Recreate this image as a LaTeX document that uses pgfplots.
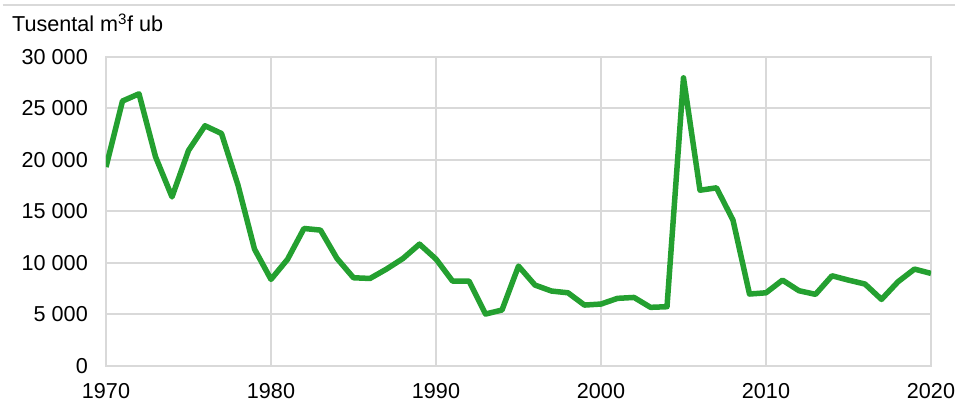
\documentclass[border=0pt]{standalone}
\usepackage{fontspec}
\setmainfont{Liberation Sans}
\usepackage{pgfplots}
\pgfplotsset{compat=1.18}
\definecolor{gridgray}{RGB}{217,217,217}
\definecolor{lgreen}{RGB}{36,160,48}
\begin{document}
\begin{tikzpicture}
\fontsize{21.6bp}{26bp}\selectfont
\path[use as bounding box] (-106bp,-35bp) rectangle (849bp,366bp);
\draw[gridgray, line width=1.5bp] (-103bp,361bp) -- (849bp,361bp);
\node[anchor=base west, inner sep=0pt] at (-94bp,334.3bp) {Tusental m\textsuperscript{3}f ub};
\begin{axis}[
  at={(0,0)}, anchor=south west,
  scale only axis, width=825bp, height=309.3bp,
  xmin=1970, xmax=2020, ymin=0, ymax=30000,
  scaled ticks=false,
  xtick={1970,1980,1990,2000,2010,2020},
  xticklabels={1970,1980,1990,2000,2010,2020},
  ytick={0,5000,10000,15000,20000,25000,30000},
  yticklabels={0,5 000,10 000,15 000,20 000,25 000,30 000},
  major tick length=0pt,
  xmajorgrids, ymajorgrids,
  grid style={gridgray, line width=2bp},
  axis line style={gridgray, line width=2bp},
  tick label style={font=\fontsize{21.6bp}{26bp}\selectfont, inner sep=0pt},
  xticklabel style={anchor=north, yshift=-17.5bp},
  yticklabel style={anchor=east, xshift=-18bp},
]
\addplot[lgreen, line width=5.5bp, line join=round, mark=none] coordinates {
(1970,19300) (1971,25700) (1972,26400) (1973,20300) (1974,16400)
(1975,20900) (1976,23300) (1977,22550) (1978,17540) (1979,11340)
(1980,8400) (1981,10340) (1982,13340) (1983,13180) (1984,10430)
(1985,8560) (1986,8490) (1987,9400) (1988,10430) (1989,11820)
(1990,10370) (1991,8240) (1992,8240) (1993,5040) (1994,5430)
(1995,9690) (1996,7850) (1997,7270) (1998,7100) (1999,5910)
(2000,6010) (2001,6560) (2002,6650) (2003,5690) (2004,5750)
(2005,27950) (2006,17050) (2007,17280) (2008,14150) (2009,6980)
(2010,7100) (2011,8330) (2012,7300) (2013,6950) (2014,8750)
(2015,8330) (2016,7950) (2017,6460) (2018,8170) (2019,9400)
(2020,8980)
};
\end{axis}
\end{tikzpicture}
\end{document}
